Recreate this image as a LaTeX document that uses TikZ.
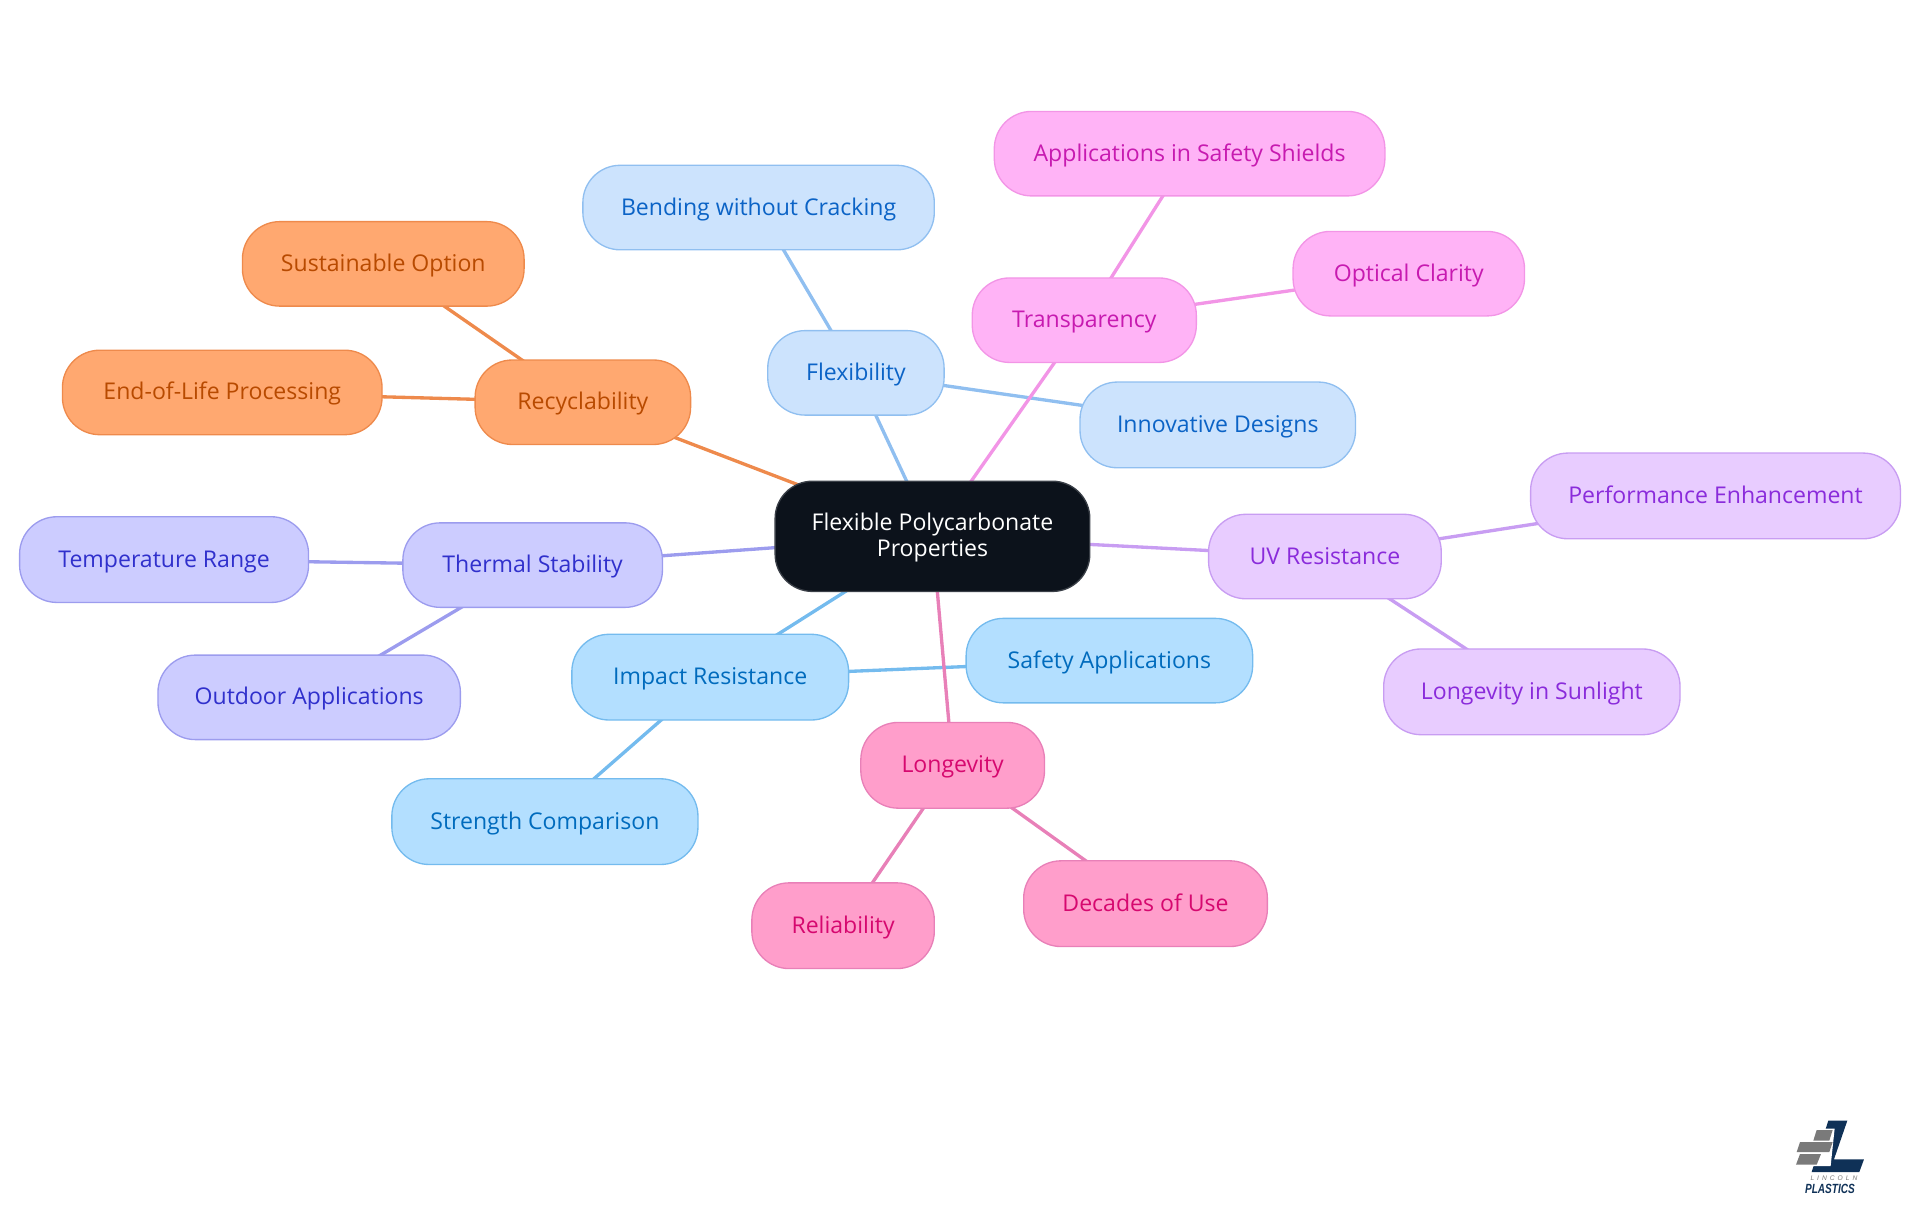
\documentclass[tikz,border=0pt]{standalone}
\usepackage{fontspec}
\setmainfont{Open Sans}
\newfontfamily\logobold{Liberation Sans}[Scale=1]
\newfontfamily\logospaced{Liberation Sans}[LetterSpace=45]
\usetikzlibrary{backgrounds}
\definecolor{rootfill}{HTML}{0C121B}\definecolor{rootline}{HTML}{3A3F47}
\definecolor{aF}{HTML}{CCE3FD}\definecolor{aL}{HTML}{90BFF0}\definecolor{aT}{HTML}{0B63C6}
\definecolor{bF}{HTML}{B3DFFF}\definecolor{bL}{HTML}{74BBEE}\definecolor{bT}{HTML}{006BBD}
\definecolor{cF}{HTML}{FFB3F6}\definecolor{cL}{HTML}{F295E6}\definecolor{cT}{HTML}{C71AB0}
\definecolor{dF}{HTML}{E8CCFF}\definecolor{dL}{HTML}{C89DF2}\definecolor{dT}{HTML}{8A2BDB}
\definecolor{eF}{HTML}{CCCCFF}\definecolor{eL}{HTML}{9C9CEE}\definecolor{eT}{HTML}{3030CC}
\definecolor{fF}{HTML}{FFA870}\definecolor{fL}{HTML}{EE8A4C}\definecolor{fT}{HTML}{B84A00}
\definecolor{gF}{HTML}{FF9ECB}\definecolor{gL}{HTML}{E880B8}\definecolor{gT}{HTML}{D6086F}
\definecolor{logonavy}{HTML}{0F3157}\definecolor{logogray}{HTML}{7A7A7A}
\tikzset{
  x=0.9184pt,y=0.9184pt,
  mm/.style={rounded corners=28pt,line width=1pt,inner sep=0pt,align=center,font=\fontsize{17.3pt}{19.5pt}\selectfont},
  leaf/.style={mm,text height=14.6pt,text depth=3.4pt},
  rootbox/.style={mm,fill=rootfill,draw=rootline,text=white},
  aN/.style={leaf,fill=aF,draw=aL,text=aT},
  bN/.style={leaf,fill=bF,draw=bL,text=bT},
  cN/.style={leaf,fill=cF,draw=cL,text=cT},
  dN/.style={leaf,fill=dF,draw=dL,text=dT},
  eN/.style={leaf,fill=eF,draw=eL,text=eT},
  fN/.style={leaf,fill=fF,draw=fL,text=fT},
  gN/.style={leaf,fill=gF,draw=gL,text=gT},
  link/.style={line width=2.5pt},
}
\newcommand{\mmnode}[7]{%
  \pgfmathsetmacro{\cxv}{(#3+#4)/2}\pgfmathsetmacro{\cyv}{-(#5+#6)/2}%
  \pgfmathsetmacro{\wv}{(#4-#3)*0.9184}\pgfmathsetmacro{\hv}{(#6-#5)*0.9184}%
  \node[#2,minimum width=\wv pt,minimum height=\hv pt] (#1) at (\cxv,\cyv) {#7};}
\begin{document}
\begin{tikzpicture}
\useasboundingbox (0,0) rectangle (1568,-992.25);
\mmnode{root}{rootbox}{633}{890}{393}{483}{\rule{0pt}{15.2pt}Flexible Polycarbonate\\Properties}
\mmnode{flex}{aN}{627}{771}{270}{339}{Flexibility}
\mmnode{bend}{aN}{476}{763}{135}{204}{Bending without Cracking}
\mmnode{innov}{aN}{882}{1107}{312}{382}{Innovative Designs}
\mmnode{transp}{cN}{794}{977}{227}{296}{Transparency}
\mmnode{shield}{cN}{812}{1131}{91}{160}{Applications in Safety Shields}
\mmnode{optical}{cN}{1056}{1245}{189}{258}{Optical Clarity}
\mmnode{recyc}{fN}{388}{564}{294}{363}{Recyclability}
\mmnode{sustain}{fN}{198}{428}{181}{250}{Sustainable Option}
\mmnode{eol}{fN}{51}{312}{286}{355}{End-of-Life Processing}
\mmnode{thermal}{eN}{329}{541}{427}{496}{Thermal Stability}
\mmnode{temp}{eN}{16}{252}{422}{492}{Temperature Range}
\mmnode{outdoor}{eN}{129}{376}{535}{604}{Outdoor Applications}
\mmnode{impact}{bN}{467}{693}{518}{588}{Impact Resistance}
\mmnode{safety}{bN}{789}{1023}{505}{574}{Safety Applications}
\mmnode{strength}{bN}{320}{570}{636}{706}{Strength Comparison}
\mmnode{longev}{gN}{703}{853}{590}{660}{Longevity}
\mmnode{reliab}{gN}{614}{763}{721}{791}{Reliability}
\mmnode{decades}{gN}{836}{1035}{703}{773}{Decades of Use}
\mmnode{uv}{dN}{987}{1177}{420}{489}{UV Resistance}
\mmnode{perf}{dN}{1250}{1552}{370}{440}{Performance Enhancement}
\mmnode{sun}{dN}{1130}{1372}{530}{600}{Longevity in Sunlight}
\begin{pgfonlayer}{background}
\draw[link,aL] (root.center)--(flex.center) (flex.center)--(bend.center) (flex.center)--(innov.center);
\draw[link,bL] (root.center)--(impact.center) (impact.center)--(safety.center) (impact.center)--(strength.center);
\draw[link,cL] (root.center)--(transp.center) (transp.center)--(shield.center) (transp.center)--(optical.center);
\draw[link,dL] (root.center)--(uv.center) (uv.center)--(perf.center) (uv.center)--(sun.center);
\draw[link,eL] (root.center)--(thermal.center) (thermal.center)--(temp.center) (thermal.center)--(outdoor.center);
\draw[link,fL] (root.center)--(recyc.center) (recyc.center)--(sustain.center) (recyc.center)--(eol.center);
\draw[link,gL] (root.center)--(longev.center) (longev.center)--(reliab.center) (longev.center)--(decades.center);
\end{pgfonlayer}
\begin{scope}[shift={(1437.3,-890.2)},x=0.25pt,y=-0.25pt]
\fill[logonavy] (205,92)--(262,92)--(222,208)--(312,208)--(298,246)--(155,246)--cycle;
\fill[white] (165,116)--(224,116)--(212,228)--(100,228)--cycle;
\fill[logogray] (170,120)--(218,120)--(208,152)--(160,152)--cycle;
\fill[logogray] (120,156)--(218,156)--(208,186)--(110,186)--cycle;
\fill[logogray] (120,192)--(183,192)--(170,224)--(108,224)--cycle;
\node[inner sep=0pt,text=logogray,font=\logospaced\fontsize{5pt}{5pt}\selectfont\itshape] (lincoln) at (222,265) {LINCOLN};
\node[inner sep=0pt,text=logonavy,yscale=1.35,xscale=1.02,transform shape,font=\logobold\fontsize{7.4pt}{8pt}\selectfont\bfseries\itshape] (plastics) at (210,296) {PLASTICS};
\end{scope}
\end{tikzpicture}
\end{document}
